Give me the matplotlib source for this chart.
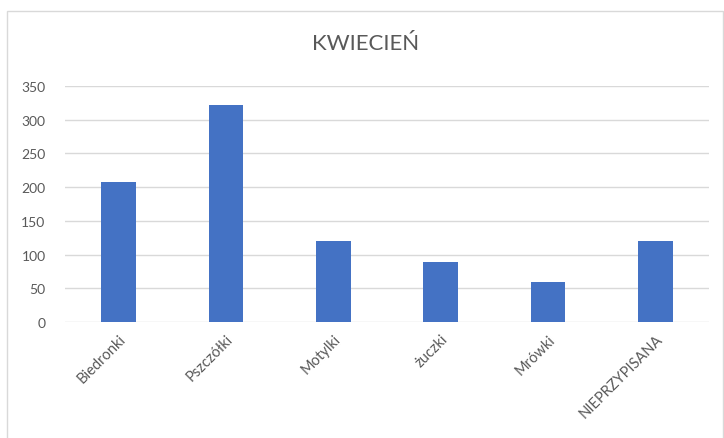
import matplotlib
matplotlib.use("Agg")
import matplotlib.pyplot as plt
from matplotlib.patches import Rectangle

categories = ["Biedronki", "Pszczółki", "Motylki", "żuczki", "Mrówki", "NIEPRZYPISANA"]
values = [208, 322, 120, 89, 60, 120]
yticks = [0, 50, 100, 150, 200, 250, 300, 350]
title = "KWIECIEŃ"

plt.rcParams['font.family'] = ['Lato', 'DejaVu Sans']
grey = "#595959"

fig = plt.figure(figsize=(7.24, 4.39), dpi=100)
fig.patches.append(Rectangle((7/724, -0.01), 716/724, 1 - 12/439 + 0.01,
                             transform=fig.transFigure, fill=False,
                             edgecolor="#d9d9d9", linewidth=1))
ax = fig.add_axes([65/724, 1 - 323/439, 644/724, (323 - 87)/439])
x = list(range(len(categories)))
ax.bar(x, values, width=0.32, color="#4472C4", zorder=3)
ax.set_xlim(-0.5, len(categories) - 0.5)
ax.set_ylim(0, 350)
ax.set_yticks(yticks)
ax.set_yticklabels([str(v) for v in yticks], fontsize=10, color=grey)
ax.set_xticks(x)
ax.set_xticklabels(categories, rotation=45, ha="right", va="top",
                   rotation_mode="anchor", fontsize=10.5, color=grey)
ax.tick_params(axis="y", length=0, pad=14)
ax.tick_params(axis="x", length=0, pad=7)
ax.grid(axis="y", color="#d9d9d9", linewidth=1, zorder=0)
for s in ax.spines.values():
    s.set_visible(False)
fig.text(366/724, 1 - 44/439, title, ha="center", va="center", fontsize=16, color=grey)
fig.savefig("out.png", dpi=100)
